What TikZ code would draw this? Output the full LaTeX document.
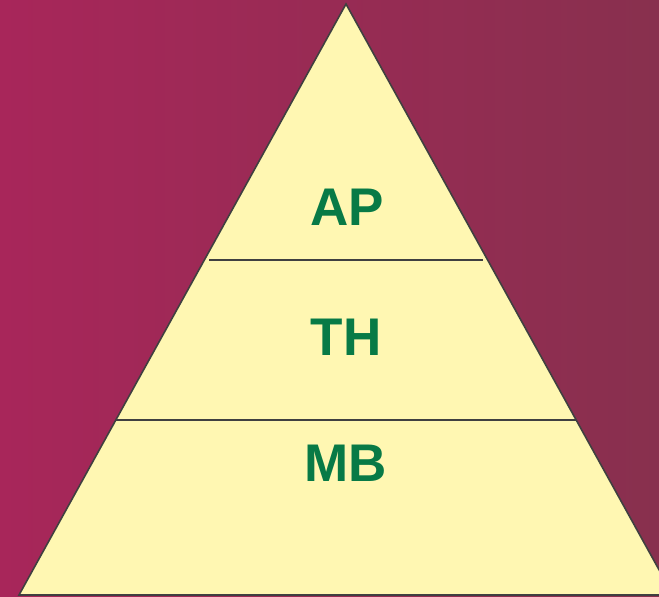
\documentclass[tikz,border=0pt]{standalone}
\usepackage{fontspec}
\setmainfont{Liberation Sans}
\definecolor{bgleft}{RGB}{168,38,90}
\definecolor{bgright}{RGB}{136,48,78}
\definecolor{pyrfill}{RGB}{255,247,178}
\definecolor{pyrline}{RGB}{64,64,64}
\definecolor{lbl}{RGB}{8,122,70}
\tikzset{
  layerlabel/.style={text=lbl,font=\fontsize{53}{60}\selectfont\bfseries,inner sep=0pt,anchor=center},
  divider/.style={draw=pyrline,line width=1.6pt}
}
\begin{document}
\begin{tikzpicture}[x=1pt,y=1pt]
\useasboundingbox (0,0) rectangle (659,597);
\shade[left color=bgleft,right color=bgright] (0,0) rectangle (659,597);
\begin{scope}
\clip (0,0) rectangle (659,597);
\coordinate (apex) at (346,593);
\coordinate (bl) at (19,2);
\coordinate (br) at (673,2);
\draw[fill=pyrfill,draw=pyrline,line width=1.6pt,line join=miter] (bl) -- (apex) -- (br) -- cycle;
\coordinate (l1a) at (209,337);
\coordinate (l1b) at (483,337);
\coordinate (l2a) at (116,177);
\coordinate (l2b) at (576,177);
\draw[divider] (l1a) -- (l1b);
\draw[divider] (l2a) -- (l2b);
\end{scope}
\node[layerlabel] (ap) at (347,390) {AP};
\node[layerlabel] (th) at (346,260) {TH};
\node[layerlabel] (mb) at (346,134) {MB};
\end{tikzpicture}
\end{document}
